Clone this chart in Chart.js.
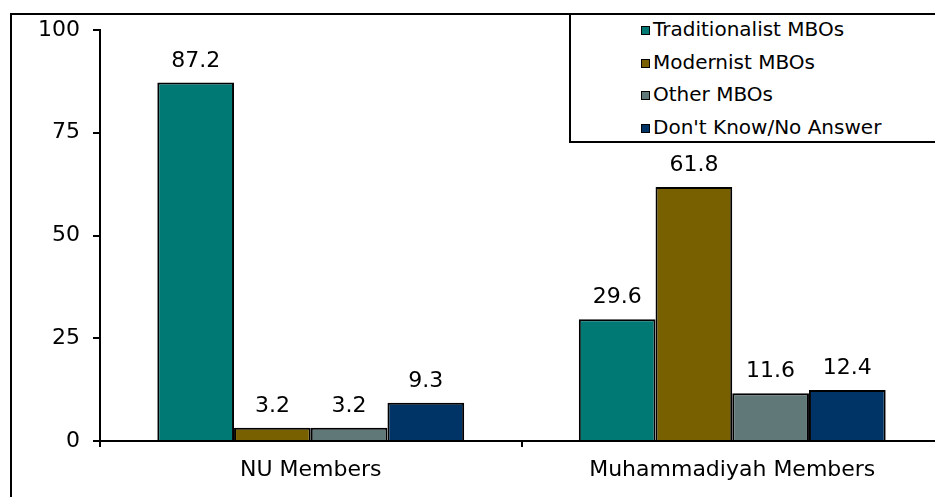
<!DOCTYPE html>
<html>
<head>
<meta charset="utf-8">
<script src="https://cdn.jsdelivr.net/npm/chart.js@4"></script>
<style>
  body { margin: 0; width: 935px; height: 497px; overflow: hidden; background: #fff; font-family: "DejaVu Sans", Verdana, sans-serif; }
  #wrap { position: relative; width: 935px; height: 497px; overflow: hidden; }
  #chart { position: absolute; left: 0; top: 0; }
  #frame { position: absolute; left: 10px; top: 13px; width: 1000px; height: 1000px; border: 2px solid #000; pointer-events: none; }
  #legend { position: absolute; left: 569px; top: 13px; width: 500px; height: 126px; border: 2px solid #000; background: #fff; }
  .item { position: absolute; left: 70px; font-size: 20px; color: #000; white-space: nowrap; line-height: 22px; }
  .box { display: inline-block; width: 7px; height: 7px; border: 1px solid #000; margin-right: 3px; vertical-align: 1px; }
</style>
</head>
<body>
<div id="wrap">
  <canvas id="chart" width="960" height="497"></canvas>
  <div id="frame"></div>
  <div id="legend"></div>
</div>
<script>
const categories = ["NU Members", "Muhammadiyah Members"];
const seriesNames = ["Traditionalist MBOs", "Modernist MBOs", "Other MBOs", "Don't Know/No Answer"];
const traditionalist = [87.2, 29.6];
const modernist = [3.2, 61.8];
const other = [3.2, 11.6];
const dontKnow = [9.3, 12.4];
const yTicks = [0, 25, 50, 75, 100];

const colors = ["#007874", "#786000", "#607878", "#003366"];
const values = [traditionalist, modernist, other, dontKnow];

const ctx = document.getElementById("chart").getContext("2d");
const font = { family: "'DejaVu Sans', Verdana, sans-serif", size: 22 };

// value labels above each bar
const valueLabels = {
    id: "valueLabels",
    afterDatasetsDraw(chart) {
        const c = chart.ctx;
        c.save();
        c.font = "22px 'DejaVu Sans', Verdana, sans-serif";
        c.fillStyle = "#000";
        c.textAlign = "center";
        c.textBaseline = "alphabetic";
        chart.data.datasets.forEach((ds, i) => {
            chart.getDatasetMeta(i).data.forEach((bar, j) => {
                c.fillText(ds.data[j].toFixed(1), bar.x, bar.y - 16);
            });
        });
        c.restore();
    }
};

const chart = new Chart(ctx, {
    type: "bar",
    data: {
        labels: categories,
        datasets: seriesNames.map((name, i) => ({
            label: name,
            data: values[i],
            backgroundColor: colors[i],
            borderColor: "#000",
            borderWidth: 2,
            barPercentage: 1,
            categoryPercentage: 0.728
        }))
    },
    options: {
        responsive: false,
        animation: false,
        layout: { padding: { left: 0, right: 17, top: 30, bottom: 0 } },
        plugins: { legend: { display: false }, tooltip: { enabled: false } },
        scales: {
            x: {
                grid: { drawOnChartArea: false, drawTicks: true, tickLength: 6, color: "#000", lineWidth: 2 },
                border: { display: true, color: "#000", width: 2 },
                ticks: { font: font, color: "#000", padding: 10 },
                afterFit(scale) { scale.height = 56; }
            },
            y: {
                min: 0,
                max: 100,
                afterBuildTicks(scale) { scale.ticks = yTicks.map(v => ({ value: v })); },
                grid: { drawOnChartArea: false, drawTicks: true, tickLength: 7, color: "#000", lineWidth: 2 },
                border: { display: true, color: "#000", width: 2 },
                ticks: { font: font, color: "#000", padding: 13 },
                afterFit(scale) { scale.width = 100; }
            }
        }
    },
    plugins: [valueLabels]
});

// legend box built from the chart datasets
const legend = document.getElementById("legend");
chart.data.datasets.forEach((ds, i) => {
    const row = document.createElement("div");
    row.className = "item";
    row.style.top = (3 + i * 32.7) + "px";
    const box = document.createElement("span");
    box.className = "box";
    box.style.background = ds.backgroundColor;
    row.appendChild(box);
    row.appendChild(document.createTextNode(ds.label));
    legend.appendChild(row);
});
</script>
</body>
</html>
